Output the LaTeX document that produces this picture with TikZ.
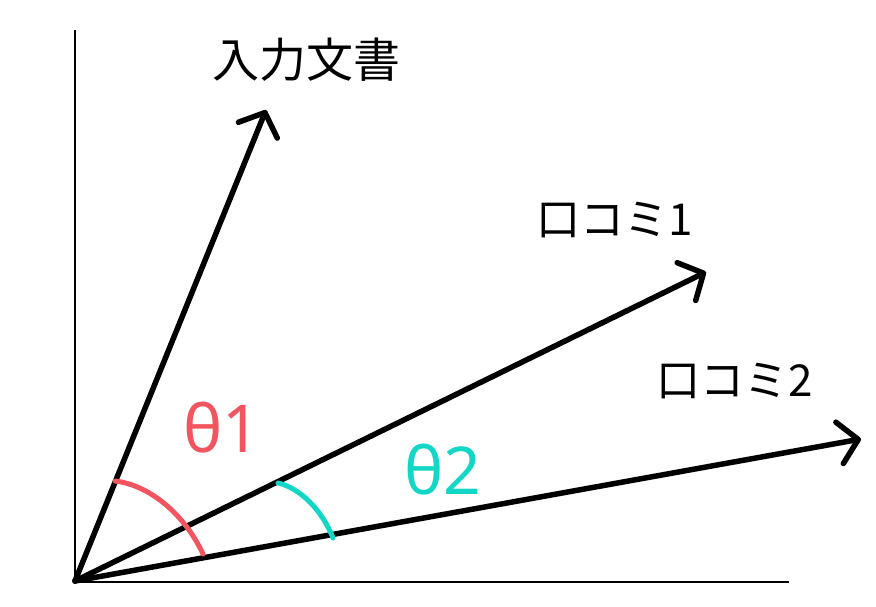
\documentclass[tikz,border=0pt]{standalone}
\usepackage{fontspec}
\newfontfamily\jpfont{Noto Sans CJK JP}
\newfontfamily\grfont{Noto Sans}
\usetikzlibrary{arrows.meta}
\definecolor{thetared}{HTML}{F25560}
\definecolor{thetacyan}{HTML}{12D6C6}
\tikzset{
  vec/.style={line width=5.5pt, line cap=round, -{Straight Barb[length=19pt,width=42pt,line cap=round,line join=round]}},
  axis/.style={line width=2pt},
  anglearc/.style={line width=5pt, line cap=round},
  lbl/.style={inner sep=0pt, font=\jpfont\fontsize{44}{48}\selectfont},
  thetalbl/.style={inner sep=0pt, font=\grfont\fontsize{66}{72}\selectfont}
}
\begin{document}
\begin{tikzpicture}[x=1pt,y=-1pt]
\useasboundingbox (0,0) rectangle (876,606);
\coordinate (O) at (75,581);
\coordinate (ytop) at (75,30);
\coordinate (xend) at (789,582);
\coordinate (t0) at (266,110);
\coordinate (t1) at (706,272);
\coordinate (t2) at (861,439);
\draw[axis] (ytop) -- (75,582) -- (xend);
\draw[vec] (O) -- (t0);
\draw[vec] (O) -- (t1);
\draw[vec] (O) -- (t2);
\draw[anglearc, thetared] (115,481) .. controls (150,485) and (185,515) .. (203,554);
\draw[anglearc, thetacyan] (278,483) .. controls (300,488) and (322,510) .. (333,538);
\node[lbl, font=\jpfont\fontsize{47}{50}\selectfont] (doc) at (306,60) {入力文書};
\node[lbl] (rev1) at (615,220) {口コミ1};
\node[lbl] (rev2) at (735,381) {口コミ2};
\node[thetalbl, text=thetared] (th1) at (222,428) {θ1};
\node[thetalbl, text=thetacyan] (th2) at (443,470) {θ2};
\end{tikzpicture}
\end{document}
